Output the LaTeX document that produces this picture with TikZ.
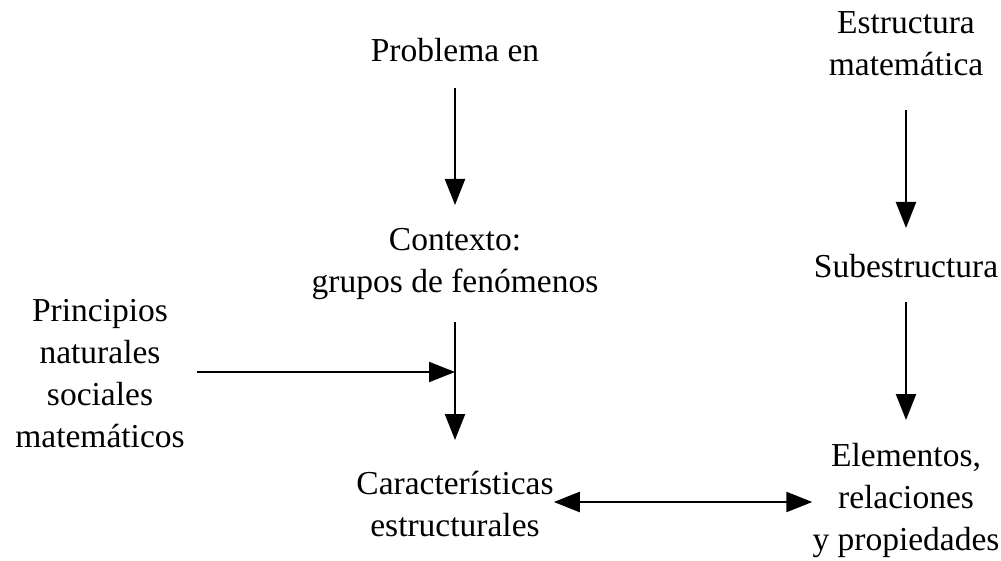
\documentclass[tikz,border=0pt]{standalone}
\usepackage{fontspec}
\setmainfont{Liberation Serif}
\usetikzlibrary{arrows.meta}
\begin{document}
\begin{tikzpicture}[x=1pt,y=-1pt,
  lbl/.style={inner sep=0pt,align=center,font=\fontsize{33.5}{42}\selectfont},
  arr/.style={line width=2.3pt,-{Triangle[length=26pt,width=20pt]}},
  darr/.style={line width=2.3pt,{Triangle[length=26pt,width=20pt]}-{Triangle[length=26pt,width=20pt]}}]
\useasboundingbox (0,0) rectangle (1001,561);
\node[lbl] (prob) at (455,50) {Problema en};
\node[lbl] (ctx) at (455,264) {Contexto:\\grupos de fenómenos};
\node[lbl] (princ) at (100,374) {Principios\\naturales\\sociales\\matemáticos};
\node[lbl] (car) at (455,504) {Características\\estructurales};
\node[lbl] (est) at (906,44) {Estructura\\matemática};
\node[lbl] (sub) at (906,266) {Subestructura};
\node[lbl] (elem) at (906,500) {Elementos,\\relaciones\\y propiedades};
\coordinate (j) at (455,372);
\coordinate (ps) at (197,372);
\draw[arr] (prob.south |- 0,88) -- (ctx.north |- 0,205);
\draw[arr] (ctx.south |- 0,322) -- (car.north |- 0,440);
\draw[arr] (ps) -- (j);
\draw[arr] (est.south |- 0,110) -- (sub.north |- 0,228);
\draw[arr] (sub.south |- 0,302) -- (elem.north |- 0,420);
\draw[darr] (car.east |- 573,502) -- (elem.west |- 793,502);
\end{tikzpicture}
\end{document}
